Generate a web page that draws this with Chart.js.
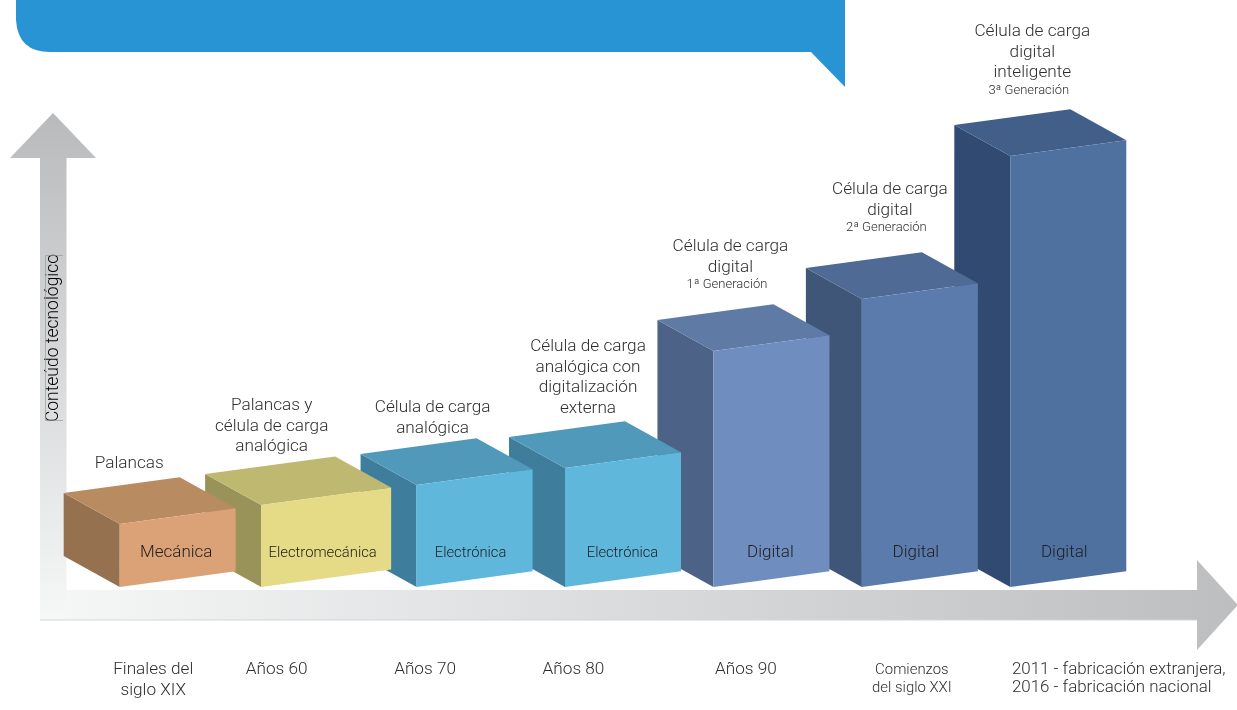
<!DOCTYPE html>
<html>
<head>
<meta charset="utf-8">
<style>
  html, body { margin: 0; padding: 0; background: #fff; }
  canvas { display: block; }
</style>
<script src="https://cdn.jsdelivr.net/npm/chart.js@4/dist/chart.umd.min.js"></script>
</head>
<body>
<canvas id="techChart" width="1237" height="710"></canvas>
<script>
/* Load cell technology steps drawn as 3D boxes */

const periods = [
  ["Finales del", "siglo XIX"],
  ["Años 60"],
  ["Años 70"],
  ["Años 80"],
  ["Años 90"],
  ["Comienzos", "del siglo XXI"],
  ["2011 - fabricación extranjera,", "2016 - fabricación nacional"],
];
const technologies = ["Mecánica", "Electromecánica", "Electrónica", "Electrónica", "Digital", "Digital", "Digital"];
const milestones = [
  ["Palancas"],
  ["Palancas y", "célula de carga", "analógica"],
  ["Célula de carga", "analógica"],
  ["Célula de carga", "analógica con", "digitalización", "externa"],
  ["Célula de carga", "digital"],
  ["Célula de carga", "digital"],
  ["Célula de carga", "digital", "inteligente"],
];
const generations = ["", "", "", "", "1ª Generación", "2ª Generación", "3ª Generación"];
const techContent = [63, 82, 102, 119, 236, 288, 431];
const yTitle = "Conteúdo tecnológico";

// styling per box
const frontColors = ["#DBA177", "#E5DA86", "#5FB8DC", "#5FB8DC", "#6F8DBE", "#5B7BAD", "#4F71A0"];
const sideColors = ["#957150", "#9A9359", "#3E7E9C", "#3E7E9C", "#4C6387", "#3F5679", "#304A71"];
const topColors = ["#B98B60", "#BFB871", "#5099BA", "#5099BA", "#5F7AA5", "#4E6A95", "#425F8A"];
const frontWidths = [116, 130, 116, 116, 116, 116, 116];
const textFont = "Roboto";
const textColor = "#2E2E2E";

const DEPTH_X = 56;
const DEPTH_Y = 31;
const SLOPE = 0.135;

function poly(ctx, pts, color) {
  ctx.beginPath();
  pts.forEach((p, i) => (i ? ctx.lineTo(p[0], p[1]) : ctx.moveTo(p[0], p[1])));
  ctx.closePath();
  ctx.fillStyle = color;
  ctx.fill();
}

// boxes overlap, so they are painted from right to left
class BoxController extends Chart.BarController {
  draw() {
    const ctx = this.chart.ctx;
    const rects = this._cachedMeta.data;
    for (let i = rects.length - 1; i >= 0; i--) {
      const w = frontWidths[i];
      const l = rects[i].x - w / 2;
      const r = l + w;
      const top = rects[i].y;
      const base = rects[i].base;
      const rise = w * SLOPE;
      poly(ctx, [[l, top], [l - DEPTH_X, top - DEPTH_Y], [l - DEPTH_X, base - DEPTH_Y], [l, base]], sideColors[i]);
      poly(ctx, [[l, top], [r, top - rise], [r - DEPTH_X, top - rise - DEPTH_Y], [l - DEPTH_X, top - DEPTH_Y]], topColors[i]);
      poly(ctx, [[l, top], [r, top - rise], [r, base - rise], [l, base]], frontColors[i]);
    }
  }
}
BoxController.id = "box3d";
BoxController.defaults = Chart.BarController.defaults;
Chart.register(BoxController);

function drawBanner(ctx) {
  ctx.beginPath();
  ctx.moveTo(16, 0);
  ctx.lineTo(845, 0);
  ctx.lineTo(845, 87);
  ctx.lineTo(811, 52);
  ctx.lineTo(50, 52);
  ctx.quadraticCurveTo(18, 52, 16, 20);
  ctx.closePath();
  ctx.fillStyle = "#2994D3";
  ctx.fill();
}

function drawArrows(ctx) {
  const xGrad = ctx.createLinearGradient(40, 0, 1237, 0);
  xGrad.addColorStop(0, "#F6F7F7");
  xGrad.addColorStop(1, "#BDBEC0");
  poly(ctx, [[40, 590], [1197, 590], [1197, 560], [1238, 605], [1197, 650], [1197, 620], [40, 620]], xGrad);

  const yGrad = ctx.createLinearGradient(0, 113, 0, 620);
  yGrad.addColorStop(0, "#B9BABC");
  yGrad.addColorStop(1, "#F6F7F7");
  poly(ctx, [[53, 113], [96, 158], [66.5, 158], [66.5, 590], [66.5, 620], [40, 620], [40, 158], [10, 158]], yGrad);

  ctx.strokeStyle = "#D4D5D6";
  ctx.lineWidth = 1;
  ctx.beginPath();
  ctx.moveTo(40, 620);
  ctx.lineTo(1197, 620);
  ctx.stroke();
}

function drawTitle(ctx) {
  ctx.save();
  ctx.translate(54, 338);
  ctx.rotate(-Math.PI / 2);
  ctx.font = `300 17.5px ${textFont}`;
  ctx.fillStyle = "#000";
  ctx.textAlign = "center";
  ctx.textBaseline = "middle";
  ctx.fillText(yTitle, 0, 0);
  ctx.restore();
  ctx.strokeStyle = "#9A9A9A";
  ctx.lineWidth = 0.7;
  ctx.beginPath();
  ctx.moveTo(63, 255.5);
  ctx.lineTo(45.5, 255.5);
  ctx.lineTo(45.5, 420.5);
  ctx.lineTo(63, 420.5);
  ctx.stroke();
}

const chromePlugin = {
  id: "chrome",
  beforeDatasetsDraw(chart) {
    drawBanner(chart.ctx);
    drawArrows(chart.ctx);
    drawTitle(chart.ctx);
  },
};

// text positions relative to each box
const milestoneDx = [-48.5, -54.5, -42, -35, -41, -30, -36];
const milestoneDy = [-60, -99, -77, -121, -104, -109, -124];
const technologyDx = [-1.5, -3.5, -4, -0.5, -1, -4, -4];
const technologySize = [17, 14.8, 14.7, 14.7, 17, 17, 17];
const periodDx = [-24.5, -49.5, -49.5, -49.5, -25.5, -8, 0];
const periodSize = [17.2, 17.2, 17.2, 17.2, 17.2, 14.9, 16.9];
const GEN_DX = -3.5;

const textPlugin = {
  id: "boxText",
  afterDatasetsDraw(chart) {
    const ctx = chart.ctx;
    const xScale = chart.scales.x;
    const yScale = chart.scales.y;
    ctx.save();
    ctx.textBaseline = "middle";
    periods.forEach((lines, i) => {
      const cx = xScale.getPixelForValue(i);
      const top = yScale.getPixelForValue(techContent[i]);
      const x = cx + milestoneDx[i];
      const y = top + milestoneDy[i];

      ctx.textAlign = "center";
      ctx.fillStyle = textColor;
      ctx.font = `300 17.2px ${textFont}`;
      milestones[i].forEach((line, j) => ctx.fillText(line, x, y + j * 20.5));
      if (generations[i]) {
        ctx.font = `300 13px ${textFont}`;
        ctx.fillText(generations[i], x + GEN_DX, y + milestones[i].length * 20.5 - 3);
      }

      ctx.fillStyle = "#1E1E1E";
      ctx.font = `300 ${technologySize[i]}px ${textFont}`;
      ctx.fillText(technologies[i], cx + technologyDx[i], 553);

      ctx.fillStyle = textColor;
      ctx.font = `300 ${periodSize[i]}px ${textFont}`;
      const last = i === periods.length - 1;
      ctx.textAlign = last ? "left" : "center";
      const px = last ? 1012 : cx + periodDx[i];
      const lh = last ? 17.5 : periodSize[i] < 16 ? 18 : 21;
      lines.forEach((line, j) => ctx.fillText(line, px, 670 + j * lh));
    });
    ctx.restore();
  },
};

new Chart(document.getElementById("techChart"), {
  type: "box3d",
  data: {
    labels: periods.map((p) => p.join(" ")),
    datasets: [{ label: yTitle, data: techContent, backgroundColor: frontColors, clip: false }],
  },
  options: {
    responsive: false,
    animation: false,
    layout: { padding: { left: 103.5, right: 94.5, top: 0, bottom: 123 } },
    plugins: { legend: { display: false }, tooltip: { enabled: false } },
    scales: {
      x: { type: "category", display: false, offset: true },
      y: { type: "linear", display: false, min: 0, max: 587 },
    },
  },
  plugins: [chromePlugin, textPlugin],
});
</script>
</body>
</html>
